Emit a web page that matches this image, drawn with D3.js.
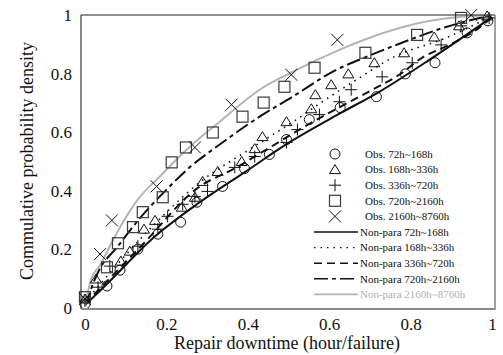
<!DOCTYPE html>
<html>
<head>
<meta charset="utf-8">
<script src="https://cdn.jsdelivr.net/npm/d3@7"></script>
<style>
  html, body { margin: 0; padding: 0; background: #fff; }
  svg { display: block; }
  svg text { font-family: "Liberation Serif", "Times New Roman", serif; }
</style>
</head>
<body>
<svg id="chart" width="503" height="355"></svg>
<script>
// Observed cumulative points [repair downtime, cumulative probability]
const obs72_168 = [[0,0.014],[0.054,0.075],[0.086,0.129],[0.130,0.201],[0.179,0.252],[0.235,0.293],[0.275,0.361],[0.338,0.415],[0.392,0.476],[0.453,0.524],[0.495,0.575],[0.551,0.643],[0.627,0.684],[0.716,0.721],[0.787,0.799],[0.860,0.837],[0.939,0.939],[0.990,0.980]];
const obs168_336 = [[0,0.031],[0.027,0.099],[0.088,0.160],[0.110,0.194],[0.145,0.269],[0.172,0.299],[0.238,0.344],[0.270,0.378],[0.289,0.432],[0.326,0.466],[0.385,0.500],[0.417,0.544],[0.436,0.585],[0.495,0.636],[0.556,0.680],[0.566,0.728],[0.605,0.762],[0.647,0.799],[0.711,0.837],[0.784,0.871],[0.858,0.925],[0.919,0.963],[0.988,0.997]];
const obs336_720 = [[0,0.024],[0.032,0.071],[0.061,0.143],[0.130,0.211],[0.179,0.269],[0.203,0.313],[0.240,0.354],[0.270,0.381],[0.301,0.398],[0.368,0.480],[0.417,0.517],[0.495,0.565],[0.522,0.609],[0.576,0.660],[0.625,0.704],[0.654,0.745],[0.730,0.789],[0.804,0.837],[0.875,0.898],[0.924,0.963],[0.993,0.990]];
const obs720_2160 = [[0,0.037],[0.054,0.139],[0.081,0.221],[0.118,0.276],[0.142,0.327],[0.191,0.378],[0.213,0.497],[0.248,0.548],[0.314,0.599],[0.387,0.653],[0.439,0.701],[0.490,0.755],[0.564,0.820],[0.689,0.871],[0.816,0.932],[0.924,0.990]];
const obs2160_8760 = [[0,0.031],[0.037,0.184],[0.066,0.299],[0.176,0.415],[0.270,0.548],[0.360,0.694],[0.507,0.796],[0.620,0.915],[0.949,1.0]];

// Non-parametric estimated curves
const np72_168 = [[0,0.01],[0.054,0.082],[0.164,0.235],[0.282,0.361],[0.392,0.463],[0.502,0.565],[0.625,0.663],[0.723,0.738],[0.846,0.847],[1.0,0.993]];
const np168_336 = [[0,0.02],[0.159,0.269],[0.282,0.429],[0.404,0.541],[0.527,0.650],[0.583,0.704],[0.667,0.779],[0.755,0.854],[0.887,0.922],[1.0,0.997]];
const np336_720 = [[0,0.014],[0.135,0.207],[0.282,0.415],[0.363,0.473],[0.446,0.541],[0.527,0.609],[0.637,0.694],[0.706,0.745],[0.772,0.796],[0.828,0.854],[0.895,0.898],[0.968,0.956],[1.0,0.993]];
const np720_2160 = [[0,0.007],[0.032,0.122],[0.081,0.211],[0.137,0.310],[0.196,0.398],[0.257,0.480],[0.331,0.558],[0.429,0.653],[0.510,0.721],[0.608,0.806],[0.691,0.857],[0.765,0.898],[0.887,0.959],[1.0,1.0]];
const np2160_8760 = [[0,0.007],[0.015,0.099],[0.037,0.146],[0.061,0.211],[0.086,0.276],[0.130,0.371],[0.184,0.449],[0.250,0.541],[0.331,0.636],[0.429,0.745],[0.510,0.806],[0.625,0.881],[0.740,0.942],[0.821,0.973],[0.919,0.993],[1.0,1.0]];

const xTicks = [0, 0.2, 0.4, 0.6, 0.8, 1];
const yTicks = [0, 0.2, 0.4, 0.6, 0.8, 1];
const xTickLabels = ["0", "0.2", "0.4", "0.6", "0.8", "1"];
const yTickLabels = ["0", "0.2", "0.4", "0.6", "0.8", "1"];
const xTitle = "Repair downtime (hour/failure)";
const yTitle = "Commulative probability density";

const obsLabels = ["Obs. 72h~168h", "Obs. 168h~336h", "Obs. 336h~720h", "Obs. 720h~2160h", "Obs. 2160h~8760h"];
const npLabels = ["Non-para 72h~168h", "Non-para 168h~336h", "Non-para 336h~720h", "Non-para 720h~2160h", "Non-para 2160h~8760h"];

const svg = d3.select("#chart");
const serif = "Liberation Serif, Times New Roman, serif";

// Plot frame
const frame = { left: 81, right: 495, top: 15, bottom: 309 };
const x = d3.scaleLinear().domain([0, 1]).range([85, 492]);
const y = d3.scaleLinear().domain([0, 1]).range([308, 15]);

// Curves
const lineGen = d3.line().x(d => x(d[0])).y(d => y(d[1])).curve(d3.curveMonotoneX);
const curveStyles = [
  { data: np72_168,   stroke: "#111", width: 2,   dash: null },
  { data: np168_336,  stroke: "#111", width: 1.6, dash: "1.5,5" },
  { data: np336_720,  stroke: "#111", width: 2,   dash: "8,5" },
  { data: np720_2160, stroke: "#111", width: 2,   dash: "14,4,4,4" },
  { data: np2160_8760, stroke: "#b4b4b4", width: 2, dash: null }
];

const gPlot = svg.append("g");
curveStyles.forEach(c => {
  gPlot.append("path")
    .attr("d", lineGen(c.data))
    .attr("fill", "none")
    .attr("stroke", c.stroke)
    .attr("stroke-width", c.width)
    .attr("stroke-dasharray", c.dash);
});

// Marker shapes
function marker(g, type, cx, cy) {
  const col = type === "square" ? "#3a3a3a" : "#111";
  if (type === "circle") {
    g.append("circle").attr("cx", cx).attr("cy", cy).attr("r", 5)
      .attr("fill", "none").attr("stroke", col).attr("stroke-width", 1);
  } else if (type === "triangle") {
    g.append("path").attr("d", `M${cx},${cy - 5}L${cx + 5.5},${cy + 4}L${cx - 5.5},${cy + 4}Z`)
      .attr("fill", "none").attr("stroke", col).attr("stroke-width", 1);
  } else if (type === "plus") {
    g.append("path").attr("d", `M${cx - 6},${cy}H${cx + 6}M${cx},${cy - 6}V${cy + 6}`)
      .attr("fill", "none").attr("stroke", col).attr("stroke-width", 1);
  } else if (type === "square") {
    g.append("rect").attr("x", cx - 5.5).attr("y", cy - 5.5).attr("width", 11).attr("height", 11)
      .attr("fill", "none").attr("stroke", col).attr("stroke-width", 1.2);
  } else if (type === "x") {
    g.append("path").attr("d", `M${cx - 6},${cy - 6}L${cx + 6},${cy + 6}M${cx + 6},${cy - 6}L${cx - 6},${cy + 6}`)
      .attr("fill", "none").attr("stroke", col).attr("stroke-width", 1);
  }
}

const obsSets = [
  { data: obs72_168, type: "circle" },
  { data: obs168_336, type: "triangle" },
  { data: obs336_720, type: "plus" },
  { data: obs720_2160, type: "square" },
  { data: obs2160_8760, type: "x" }
];
obsSets.forEach(s => {
  const g = gPlot.append("g");
  s.data.forEach(d => marker(g, s.type, x(d[0]), y(d[1])));
});

// Frame lines
svg.append("line").attr("x1", frame.left).attr("x2", frame.right).attr("y1", frame.top).attr("y2", frame.top)
  .attr("stroke", "#222").attr("stroke-width", 1);
svg.append("line").attr("x1", frame.right).attr("x2", frame.right).attr("y1", frame.top).attr("y2", frame.bottom)
  .attr("stroke", "#444").attr("stroke-width", 1);
svg.append("line").attr("x1", frame.left).attr("x2", frame.left).attr("y1", frame.top).attr("y2", frame.bottom)
  .attr("stroke", "#111").attr("stroke-width", 1);
svg.append("line").attr("x1", frame.left).attr("x2", frame.right + 0.5).attr("y1", frame.bottom).attr("y2", frame.bottom)
  .attr("stroke", "#8a8a8a").attr("stroke-width", 2);

// Axes (labels only, no tick marks)
const xAxis = d3.axisBottom(x).tickValues(xTicks).tickFormat((d, i) => xTickLabels[i]).tickSize(0).tickPadding(9);
const gx = svg.append("g").attr("transform", `translate(0,${frame.bottom})`).call(xAxis)
  .attr("font-family", serif).attr("font-size", 17);
gx.select(".domain").remove();
gx.selectAll("text").attr("fill", "#111");

const yAxis = d3.axisLeft(y).tickValues(yTicks).tickFormat((d, i) => yTickLabels[i]).tickSize(0).tickPadding(9);
const gy = svg.append("g").attr("transform", `translate(${frame.left},0)`).call(yAxis)
  .attr("font-family", serif).attr("font-size", 17);
gy.select(".domain").remove();
gy.selectAll("text").attr("fill", "#111");

// Axis titles
svg.append("text").attr("x", 287).attr("y", 349).attr("text-anchor", "middle")
  .attr("font-family", serif).attr("font-size", 18).attr("fill", "#111").text(xTitle);
svg.append("text").attr("transform", "translate(33,161) rotate(-90)").attr("text-anchor", "middle")
  .attr("font-family", serif).attr("font-size", 18).attr("fill", "#111").text(yTitle);

// Legend
const legY0 = 154, legStep = 15.6;
const gLeg = svg.append("g");
obsSets.forEach((s, i) => {
  const yy = legY0 + i * legStep;
  marker(gLeg, s.type, 335, yy);
  gLeg.append("text").attr("x", 365).attr("y", yy).attr("dy", "0.35em")
    .attr("font-family", serif).attr("font-size", 11).attr("fill", "#111").text(obsLabels[i]);
});
curveStyles.forEach((c, i) => {
  const yy = legY0 + (i + 5) * legStep;
  gLeg.append("line").attr("x1", 314).attr("x2", 358).attr("y1", yy).attr("y2", yy)
    .attr("stroke", c.stroke).attr("stroke-width", c.width === 2 ? 1.6 : 1.4).attr("stroke-dasharray", c.dash);
  gLeg.append("text").attr("x", 360).attr("y", yy).attr("dy", "0.35em")
    .attr("font-family", serif).attr("font-size", 11).attr("fill", i === 4 ? "#b0b0b0" : "#111").text(npLabels[i]);
});
</script>
</body>
</html>
